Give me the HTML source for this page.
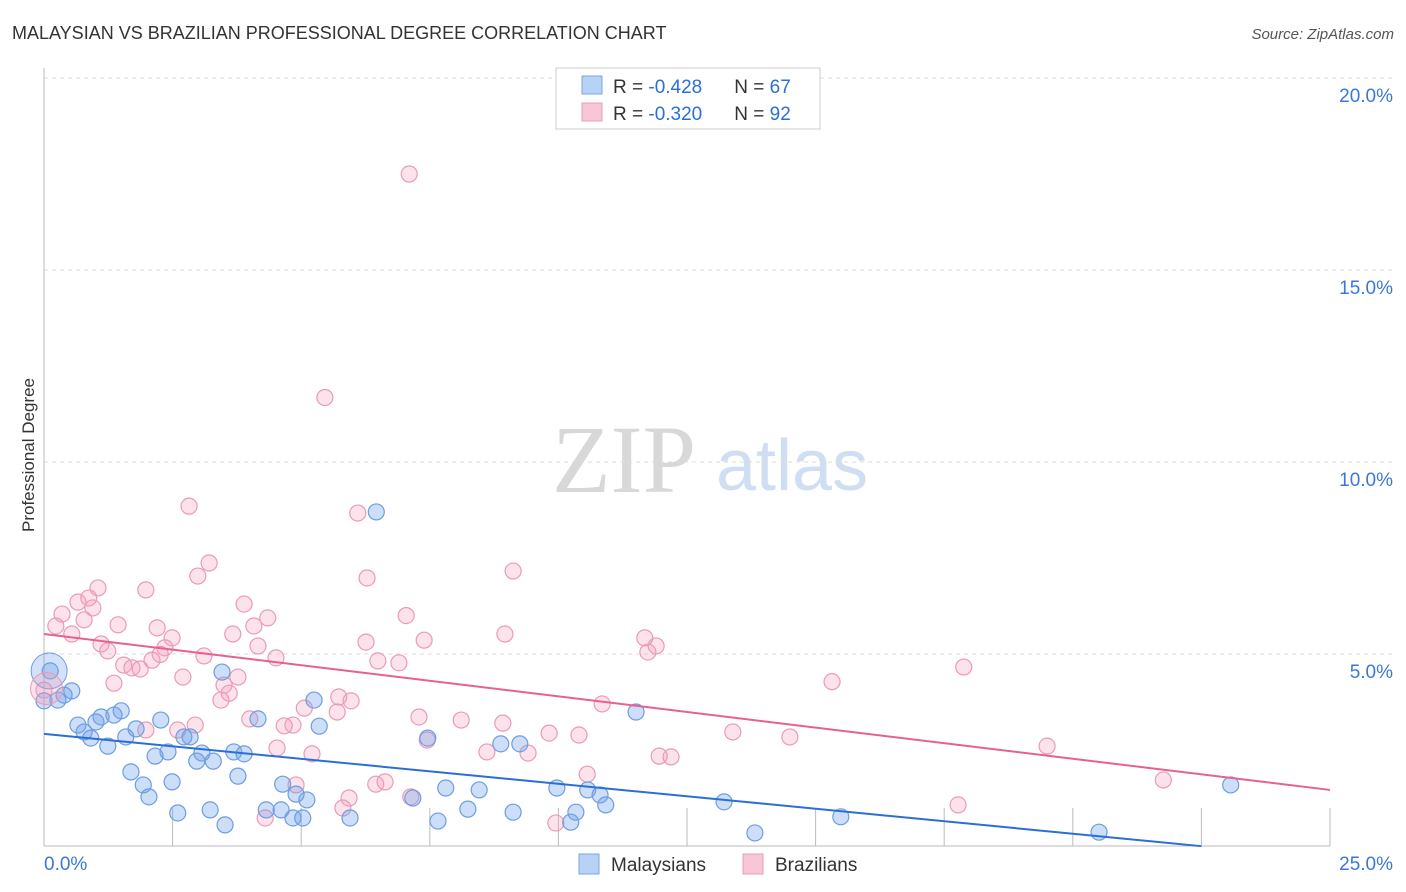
<!DOCTYPE html>
<html><head><meta charset="utf-8">
<style>
body{margin:0;background:#fff;font-family:"Liberation Sans",sans-serif;}
#wrap{position:relative;width:1406px;height:892px;overflow:hidden;}
</style></head>
<body>
<div id="wrap">
<svg id="svg" width="1406" height="892" xmlns="http://www.w3.org/2000/svg">
<text x="12" y="39" font-size="18" fill="#333">MALAYSIAN VS BRAZILIAN PROFESSIONAL DEGREE CORRELATION CHART</text>
<text x="1394" y="39" font-size="15" fill="#555" font-style="italic" text-anchor="end">Source: ZipAtlas.com</text>
<text x="34" y="455" font-size="17" fill="#333" text-anchor="middle" transform="rotate(-90 34 455)">Professional Degree</text>
<g>
<text x="552" y="492" font-size="96" font-family="Liberation Serif,serif" fill="#d8d8d8">ZIP</text>
<text x="716" y="490" font-size="72" fill="#d0def3">atlas</text>
</g>
<g id="grid"></g>
<g id="marks"></g>
<g>
<rect x="556" y="68" width="264" height="61" fill="#fff" stroke="#ccc"/>
<rect x="582" y="76" width="20" height="18" fill="#b8d2f5" stroke="#7aa6e6"/>
<text x="613" y="93" font-size="19" fill="#333">R = <tspan fill="#2a6fd6">-0.428</tspan><tspan dx="32">N = </tspan><tspan fill="#2a6fd6">67</tspan></text>
<rect x="582" y="103" width="20" height="18" fill="#f9c6d6" stroke="#eb9ab6"/>
<text x="613" y="120" font-size="19" fill="#333">R = <tspan fill="#2a6fd6">-0.320</tspan><tspan dx="32">N = </tspan><tspan fill="#2a6fd6">92</tspan></text>
</g>
<g>
<rect x="579" y="854" width="20" height="20" fill="#b8d2f5" stroke="#7aa6e6"/>
<text x="611" y="871" font-size="19" fill="#333">Malaysians</text>
<rect x="743" y="854" width="20" height="20" fill="#f9c6d6" stroke="#eb9ab6"/>
<text x="775" y="871" font-size="19" fill="#333">Brazilians</text>
</g>
</svg>
</div>
<script>
const xTicks=[0,2.5,5,7.5,10,12.5,15,17.5,20,22.5,25];
const yTicks=[5,10,15,20];
const yTickLabels=["5.0%","10.0%","15.0%","20.0%"];
const xEndLabels=["0.0%","25.0%"];
const blueX=[6.46,3.46,0.12,0.54,0.39,0.27,0.0,1.5,1.11,1.36,1.01,2.27,0.66,5.25,4.16,0.78,0.91,1.59,1.79,2.84,2.72,1.24,2.41,2.16,3.69,3.89,3.07,3.29,2.97,1.69,3.77,1.93,2.49,2.04,2.6,3.23,3.52,4.32,4.61,5.11,4.84,5.03,5.95,4.9,4.64,5.35,7.46,8.88,9.25,7.17,7.81,8.46,8.24,7.66,9.12,9.97,10.57,10.81,10.92,10.34,10.24,11.51,13.22,13.82,15.49,20.51,23.07];
const blueY=[8.7,4.53,4.56,4.04,3.93,3.8,3.78,3.52,3.36,3.41,3.23,3.28,3.15,3.8,3.31,2.97,2.81,2.84,3.05,2.84,2.84,2.6,2.45,2.34,2.45,2.4,2.42,2.21,2.21,1.93,1.82,1.59,1.67,1.28,0.86,0.94,0.55,0.94,0.94,1.2,0.73,0.73,0.73,1.35,1.61,3.12,2.81,2.66,2.66,1.25,1.51,1.46,0.96,0.65,0.88,1.51,1.46,1.33,1.07,0.88,0.62,3.49,1.15,0.34,0.76,0.36,1.59];
const pinkX=[7.1,5.46,2.82,6.1,3.21,9.12,2.99,6.28,1.05,1.98,0.87,3.89,0.66,0.35,0.95,7.04,4.35,0.23,0.78,1.44,2.2,0.54,4.08,3.67,8.96,2.49,7.39,6.26,11.68,1.11,4.16,2.35,11.9,2.26,3.11,11.74,1.24,4.51,2.1,1.55,6.49,6.9,3.77,1.71,1.87,17.88,2.7,1.36,3.5,15.32,0.0,3.6,3.44,5.73,5.97,10.85,5.06,5.7,7.29,8.11,4.0,8.92,2.94,4.84,4.67,2.6,1.98,7.45,9.82,10.4,13.39,14.5,4.53,5.21,8.61,9.41,11.96,12.19,19.5,10.56,4.9,6.45,6.63,5.93,7.13,21.76,4.3,17.77,9.95,5.81];
const pinkY=[17.5,11.68,8.85,8.67,7.37,7.16,7.03,6.98,6.72,6.67,6.46,6.3,6.35,6.04,6.2,6.0,5.94,5.73,5.89,5.76,5.68,5.52,5.73,5.52,5.52,5.42,5.36,5.31,5.42,5.26,5.21,5.16,5.21,4.99,4.95,5.05,5.08,4.9,4.84,4.71,4.82,4.77,4.4,4.64,4.61,4.66,4.4,4.24,4.19,4.28,4.06,3.98,3.8,3.88,3.78,3.7,3.59,3.49,3.36,3.28,3.31,3.2,3.15,3.15,3.13,3.02,3.02,2.76,2.94,2.89,2.97,2.84,2.55,2.4,2.45,2.42,2.34,2.32,2.6,1.87,1.59,1.61,1.67,1.25,1.28,1.72,0.73,1.07,0.6,0.99];
const blueFit=[2.92,-0.13];
const pinkFit=[5.52,-0.1624];
const X0=44,X1=1330,Y0=846,Y1=78;
const sx=v=>X0+(v/25)*(X1-X0);
const sy=v=>Y0-(v/20)*(Y0-Y1);
const NS="http://www.w3.org/2000/svg";
function mk(tag,attrs,parent){const e=document.createElementNS(NS,tag);for(const k in attrs)e.setAttribute(k,attrs[k]);parent.appendChild(e);return e;}
const grid=document.getElementById('grid'),marks=document.getElementById('marks');
yTicks.forEach((t,i)=>{
 const l=mk('line',{x1:X0,x2:1394,y1:sy(t),y2:sy(t),stroke:'#ddd','stroke-dasharray':'4,4'},grid);
 
 
 const tx=mk('text',{x:1393,y:sy(t)+24,'font-size':19,fill:'#3a78d8','text-anchor':'end'},grid);
 tx.textContent=yTickLabels[i];
 
 
});
const ax=mk('line',{x1:X0,x2:X0,y1:68,y2:Y0,stroke:'#bbb'},grid);


const bx=mk('line',{x1:X0,x2:X1,y1:Y0,y2:Y0,stroke:'#bbb'},grid);


xTicks.forEach(t=>{
 const l=mk('line',{x1:sx(t),x2:sx(t),y1:Y0,y2:Y0-38,stroke:'#bbb'},grid);
 
 
});
[[0,'start',44],[25,'end',1393]].forEach((d,i)=>{
 const tx=mk('text',{x:d[2],y:870,'font-size':19,fill:'#3a78d8','text-anchor':d[1]},grid);
 tx.textContent=xEndLabels[i];
 
 
});
function pts(xs,ys,fill,stroke,name){
 xs.forEach((x,i)=>{
  const c=mk('circle',{cx:sx(x),cy:sy(ys[i]),r:8,fill:fill,stroke:stroke,'stroke-width':1.2},marks);
  
  
 });
}
pts(pinkX,pinkY,'rgba(245,160,190,0.3)','#eb9ab6','brazilian-point');
pts(blueX,blueY,'rgba(110,160,235,0.35)','#6d9de0','malaysian-point');
const big1=mk('circle',{cx:sx(0.1),cy:sy(4.56),r:18,fill:'rgba(110,160,235,0.3)',stroke:'#6d9de0'},marks);


const big2=mk('circle',{cx:sx(0.05),cy:sy(4.1),r:16,fill:'rgba(245,160,190,0.3)',stroke:'#eb9ab6'},marks);


const bl=mk('line',{x1:sx(0),y1:sy(blueFit[0]),x2:sx(22.5),y2:sy(blueFit[0]+blueFit[1]*22.5),stroke:'#2a6fd6','stroke-width':2},marks);


const pl=mk('line',{x1:sx(0),y1:sy(pinkFit[0]),x2:sx(25),y2:sy(pinkFit[0]+pinkFit[1]*25),stroke:'#e8608f','stroke-width':2},marks);


</script>
</body></html>
